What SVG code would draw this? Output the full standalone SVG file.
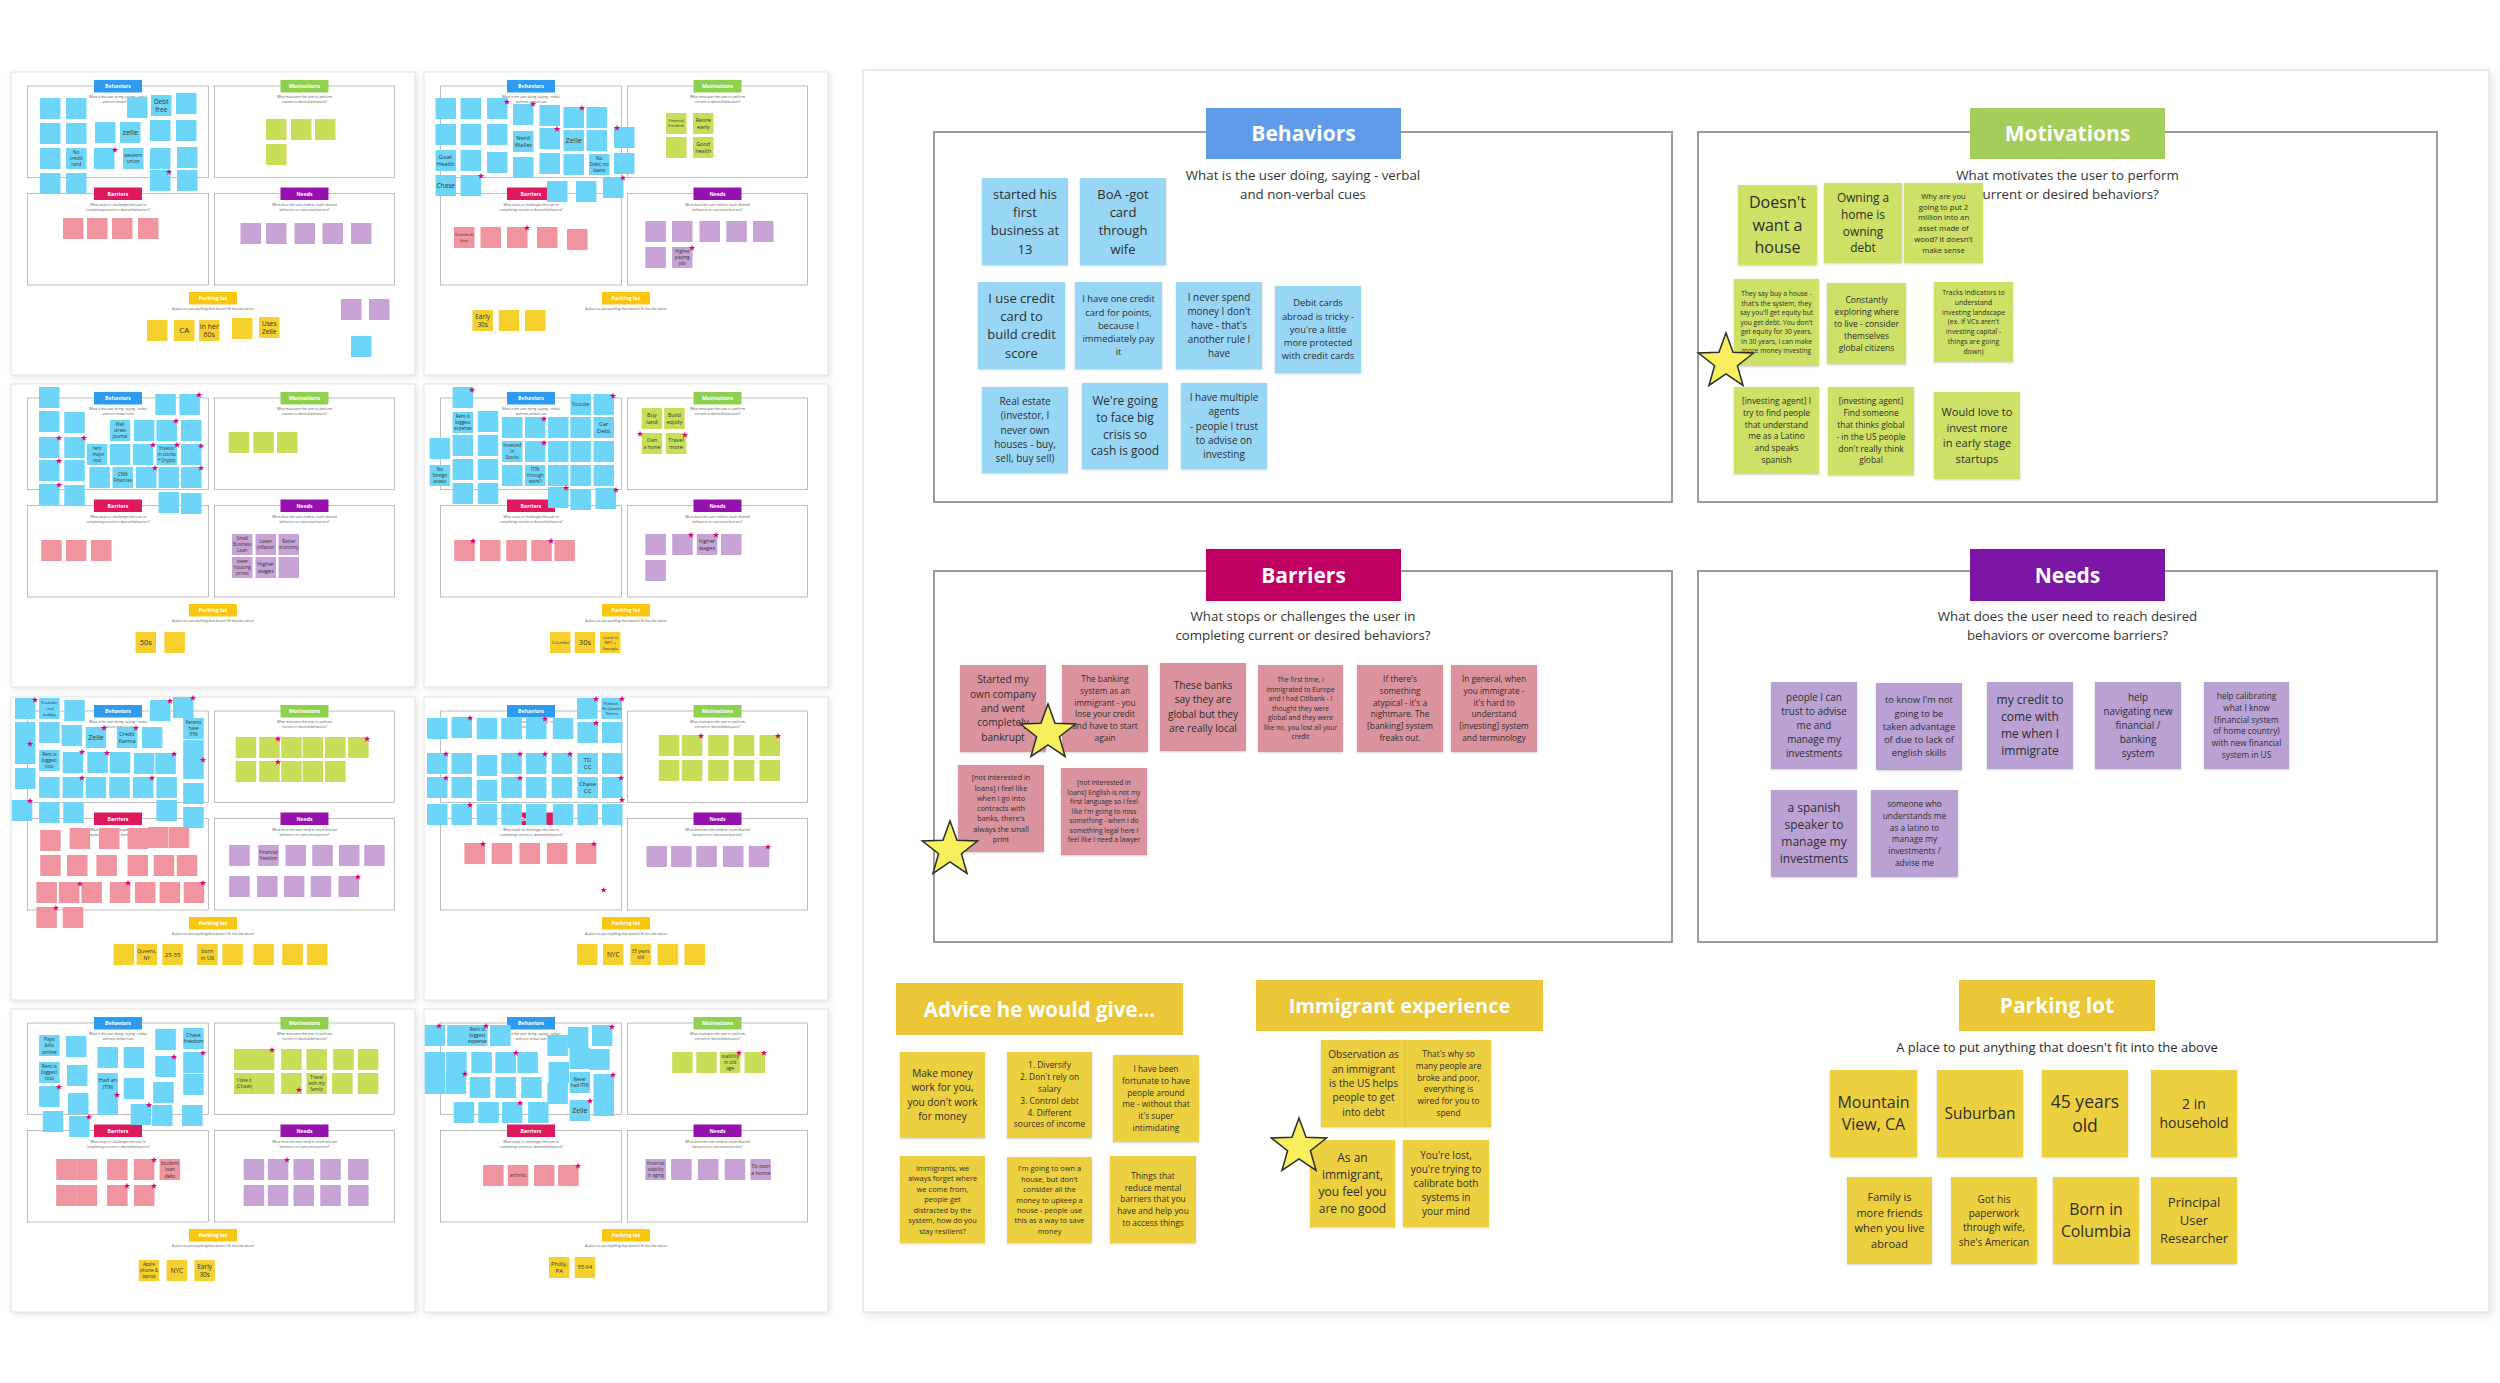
<svg xmlns="http://www.w3.org/2000/svg" xmlns:xlink="http://www.w3.org/1999/xlink" width="2500" height="1383" viewBox="0 0 2500 1383">
<style>
.bgd{fill:#fff}
.mbd{fill:#fff;stroke:#e4e4e4;stroke-width:1.5;filter:drop-shadow(3px 3px 4px rgba(0,0,0,.10))}
.tbd{fill:#fff;stroke:#e4e4e4;stroke-width:1;filter:drop-shadow(2px 2px 3px rgba(0,0,0,.10))}
.sec{fill:none;stroke:#9b9b9b;stroke-width:2}
.tsec{fill:none;stroke:#a3a3a3;stroke-width:.7}
.ht{font-family:'Open Sans','DejaVu Sans',sans-serif;font-weight:700;fill:#fff;text-anchor:middle;font-size:21px}
.sub{font-family:'Open Sans','DejaVu Sans',sans-serif;fill:#333;text-anchor:middle;font-size:13.3px}
.tx{font-family:'Open Sans','DejaVu Sans',sans-serif;fill:#2d2d2d;text-anchor:middle}
.n rect{filter:drop-shadow(0px 1.5px 1px rgba(0,0,0,.18))}
.sb{fill:#98d6f6}.sg{fill:#cfe066}.sr{fill:#da939c}.sp{fill:#b9a1d4}.sy{fill:#edd03f}
.star{fill:#f8ef5e;stroke:#2b2b2b;stroke-width:1.5;stroke-linejoin:miter}
.tb{fill:#6dd5f8}.tg{fill:#c8de58}.tr{fill:#f0959f}.tp{fill:#c6a3d4}.ty{fill:#f6d02c}
.tht{font-family:'Open Sans','DejaVu Sans',sans-serif;font-weight:700;fill:#fff;text-anchor:middle;font-size:5.2px}
.tsu{font-family:'Open Sans','DejaVu Sans',sans-serif;fill:#555;text-anchor:middle;font-size:3.3px}
.tt{font-family:'Open Sans','DejaVu Sans',sans-serif;fill:#333;text-anchor:middle}
.ms{fill:#e3006e}
</style>
<defs>
<polygon id="star" points="0,-29 7.05,-9.71 27.58,-8.96 11.41,3.71 17.05,23.46 0,12 -17.05,23.46 -11.41,3.71 -27.58,-8.96 -7.05,-9.71"/>
<polygon id="mst" points="0,-3.3 0.8,-1.1 3.14,-1.02 1.3,0.42 1.94,2.67 0,1.37 -1.94,2.67 -1.3,0.42 -3.14,-1.02 -0.8,-1.1"/>
<rect id="q" width="20.5" height="21"/>
<g id="tf">
<rect x="0" y="0" width="404" height="303" class="tbd"/>
<rect x="16.5" y="14" width="181" height="91.5" class="tsec"/>
<rect x="203.5" y="14" width="180" height="91.5" class="tsec"/>
<rect x="16.5" y="121.5" width="181" height="91.5" class="tsec"/>
<rect x="203.5" y="121.5" width="180" height="91.5" class="tsec"/>
<rect x="83" y="8" width="48" height="12.5" fill="#2d9bf0"/>
<text x="107" y="16.2" class="tht">Behaviors</text>
<rect x="269.5" y="8" width="48" height="12.5" fill="#8fd14f"/>
<text x="293.5" y="16.2" class="tht">Motivations</text>
<rect x="83" y="115.5" width="48" height="12.5" fill="#e0185e"/>
<text x="107" y="123.7" class="tht">Barriers</text>
<rect x="269.5" y="115.5" width="48" height="12.5" fill="#9510ac"/>
<text x="293.5" y="123.7" class="tht">Needs</text>
<rect x="178" y="220" width="48" height="12.5" fill="#fac710"/>
<text x="202" y="228.2" class="tht">Parking lot</text>
<text class="tsu"><tspan x="107" y="26">What is the user doing, saying - verbal</tspan><tspan x="107" y="30.8">and non-verbal cues</tspan></text>
<text class="tsu"><tspan x="293.5" y="26">What motivates the user to perform</tspan><tspan x="293.5" y="30.8">current or desired behaviors?</tspan></text>
<text class="tsu"><tspan x="107" y="134">What stops or challenges the user in</tspan><tspan x="107" y="138.8">completing current or desired behaviors?</tspan></text>
<text class="tsu"><tspan x="293.5" y="134">What does the user need to reach desired</tspan><tspan x="293.5" y="138.8">behaviors or overcome barriers?</tspan></text>
<text class="tsu" x="202" y="237.8">A place to put anything that doesn't fit into the above</text>
</g>
</defs>
<rect x="0" y="0" width="2500" height="1383" class="bgd"/>

<!-- ===== Thumbnail boards ===== -->
<g id="thumb1">
<use href="#tf" x="11" y="72"/>
<use href="#q" class="tb" x="40" y="98"/><use href="#q" class="tb" x="66" y="98"/><use href="#q" class="tb" x="127" y="97"/><use href="#q" class="tb" x="151" y="95"/><use href="#q" class="tb" x="176" y="93"/>
<use href="#q" class="tb" x="40" y="123"/><use href="#q" class="tb" x="66" y="123"/><use href="#q" class="tb" x="95" y="122"/><use href="#q" class="tb" x="120" y="122"/><use href="#q" class="tb" x="150" y="120"/><use href="#q" class="tb" x="176" y="120"/>
<use href="#q" class="tb" x="40" y="148"/><use href="#q" class="tb" x="66" y="148"/><use href="#q" class="tb" x="94" y="148"/><use href="#q" class="tb" x="123" y="148"/><use href="#q" class="tb" x="150" y="148"/><use href="#q" class="tb" x="177" y="147"/>
<use href="#q" class="tb" x="40" y="173"/><use href="#q" class="tb" x="66" y="173"/><use href="#q" class="tb" x="150" y="170"/><use href="#q" class="tb" x="177" y="170"/><use href="#q" class="tb" x="351" y="336"/>
<use href="#q" class="tg" x="266" y="119"/><use href="#q" class="tg" x="291" y="119"/><use href="#q" class="tg" x="315" y="119"/><use href="#q" class="tg" x="266" y="144"/>
<use href="#q" class="tr" x="63" y="218"/><use href="#q" class="tr" x="87" y="218"/><use href="#q" class="tr" x="112" y="218"/><use href="#q" class="tr" x="138" y="218"/>
<use href="#q" class="tp" x="240.5" y="223"/><use href="#q" class="tp" x="266" y="223"/><use href="#q" class="tp" x="294.5" y="223"/><use href="#q" class="tp" x="322.5" y="223"/><use href="#q" class="tp" x="351" y="223"/><use href="#q" class="tp" x="341" y="299"/><use href="#q" class="tp" x="369" y="299"/>
<use href="#q" class="ty" x="147" y="320"/><use href="#q" class="ty" x="174" y="320"/><use href="#q" class="ty" x="199" y="320"/><use href="#q" class="ty" x="232" y="318"/><use href="#q" class="ty" x="259" y="317"/>
<use href="#mst" class="ms" x="115" y="150"/><use href="#mst" class="ms" x="169" y="172"/>
<text class="tt" font-size="6.5"><tspan x="161.25" y="104">Debt</tspan><tspan x="161.25" y="111.5">free</tspan></text>
<text class="tt" font-size="7.5" x="130.25" y="135.1">zelle</text>
<text class="tt" font-size="4.8"><tspan x="76.25" y="154.4">No</tspan><tspan x="76.25" y="160.2">credit</tspan><tspan x="76.25" y="166">card</tspan></text>
<text class="tt" font-size="4.8"><tspan x="133.25" y="157.3">western</tspan><tspan x="133.25" y="163.1">union</tspan></text>
<text class="tt" font-size="8" x="184.25" y="333.3">CA</text>
<text class="tt" font-size="7"><tspan x="209.25" y="329">In her</tspan><tspan x="209.25" y="337">60s</tspan></text>
<text class="tt" font-size="6.5"><tspan x="269.25" y="326">Uses</tspan><tspan x="269.25" y="333.5">Zelle</tspan></text>
</g>

<g id="thumb2">
<use href="#tf" x="424" y="72"/>
<use href="#q" class="tb" x="435.5" y="98"/><use href="#q" class="tb" x="460.6" y="98"/><use href="#q" class="tb" x="487" y="98"/><use href="#q" class="tb" x="513" y="104"/><use href="#q" class="tb" x="539.5" y="105"/><use href="#q" class="tb" x="563.5" y="107"/><use href="#q" class="tb" x="586.5" y="107"/>
<use href="#q" class="tb" x="435.5" y="124"/><use href="#q" class="tb" x="460.6" y="124"/><use href="#q" class="tb" x="487" y="124"/><use href="#q" class="tb" x="513" y="131"/><use href="#q" class="tb" x="539.5" y="128"/><use href="#q" class="tb" x="563.5" y="130"/><use href="#q" class="tb" x="586.5" y="130"/><use href="#q" class="tb" x="614" y="127"/>
<use href="#q" class="tb" x="435.5" y="150"/><use href="#q" class="tb" x="460.6" y="150"/><use href="#q" class="tb" x="487" y="152"/><use href="#q" class="tb" x="513" y="157"/><use href="#q" class="tb" x="539.5" y="153"/><use href="#q" class="tb" x="563.5" y="154"/><use href="#q" class="tb" x="589" y="154"/><use href="#q" class="tb" x="614" y="153"/>
<use href="#q" class="tb" x="435.5" y="175"/><use href="#q" class="tb" x="460.6" y="175"/><use href="#q" class="tb" x="547" y="181"/><use href="#q" class="tb" x="576" y="181"/><use href="#q" class="tb" x="603" y="177"/>
<use href="#q" class="tg" x="666" y="113"/><use href="#q" class="tg" x="693" y="113"/><use href="#q" class="tg" x="666" y="137"/><use href="#q" class="tg" x="693" y="137"/>
<use href="#q" class="tr" x="454" y="227"/><use href="#q" class="tr" x="480.5" y="227"/><use href="#q" class="tr" x="507" y="227"/><use href="#q" class="tr" x="537" y="227"/><use href="#q" class="tr" x="567" y="229"/>
<use href="#q" class="tp" x="645.4" y="221"/><use href="#q" class="tp" x="672" y="221"/><use href="#q" class="tp" x="699.5" y="221"/><use href="#q" class="tp" x="726.3" y="221"/><use href="#q" class="tp" x="753" y="221"/><use href="#q" class="tp" x="645.4" y="247"/><use href="#q" class="tp" x="672" y="247"/>
<use href="#q" class="ty" x="472.4" y="310"/><use href="#q" class="ty" x="498.7" y="310"/><use href="#q" class="ty" x="525" y="310"/>
<use href="#mst" class="ms" x="507" y="102"/><use href="#mst" class="ms" x="533" y="104"/><use href="#mst" class="ms" x="582" y="108"/><use href="#mst" class="ms" x="557" y="129"/><use href="#mst" class="ms" x="617" y="128"/><use href="#mst" class="ms" x="481" y="176"/><use href="#mst" class="ms" x="623" y="178"/><use href="#mst" class="ms" x="527" y="228"/><use href="#mst" class="ms" x="692" y="248"/>
<text class="tt" font-size="6"><tspan x="523.25" y="140.1">Nerd</tspan><tspan x="523.25" y="147.1">Wallet</tspan></text>
<text class="tt" font-size="7.5" x="573.75" y="143.1">Zelle</text>
<text class="tt" font-size="6"><tspan x="445.75" y="159.1">Goal:</tspan><tspan x="445.75" y="166.1">Health</tspan></text>
<text class="tt" font-size="6.5" x="445.75" y="187.8">Chase</text>
<text class="tt" font-size="4.8"><tspan x="599.25" y="160.2">No</tspan><tspan x="599.25" y="166.2">Debt; no</tspan><tspan x="599.25" y="172.2">loans</tspan></text>
<text class="tt" font-size="3.8"><tspan x="676.25" y="122.3">Financial</tspan><tspan x="676.25" y="127.3">Freedom</tspan></text>
<text class="tt" font-size="5.5"><tspan x="703.25" y="122.2">Retire</tspan><tspan x="703.25" y="128.7">early</tspan></text>
<text class="tt" font-size="5.5"><tspan x="703.25" y="146.2">Good</tspan><tspan x="703.25" y="152.7">health</tspan></text>
<text class="tt" font-size="4.2"><tspan x="464.25" y="236.3">Overdraft</tspan><tspan x="464.25" y="241.8">fees</tspan></text>
<text class="tt" font-size="4.8"><tspan x="682.25" y="253.2">Higher</tspan><tspan x="682.25" y="259.2">paying</tspan><tspan x="682.25" y="265.2">job</tspan></text>
<text class="tt" font-size="6.5"><tspan x="482.65" y="319.1">Early</tspan><tspan x="482.65" y="326.6">30s</tspan></text>
</g>

<g id="thumb3">
<use href="#tf" x="11" y="384"/>
<use href="#q" class="tb" x="39" y="387"/><use href="#q" class="tb" x="39" y="411"/><use href="#q" class="tb" x="64.3" y="412"/><use href="#q" class="tb" x="155.3" y="394"/><use href="#q" class="tb" x="179.4" y="394"/>
<use href="#q" class="tb" x="109.8" y="420"/><use href="#q" class="tb" x="133.9" y="420"/><use href="#q" class="tb" x="156.4" y="420"/><use href="#q" class="tb" x="181" y="420"/>
<use href="#q" class="tb" x="39" y="437"/><use href="#q" class="tb" x="64.3" y="437"/><use href="#q" class="tb" x="86.8" y="444"/><use href="#q" class="tb" x="109.8" y="444"/><use href="#q" class="tb" x="132.8" y="444"/><use href="#q" class="tb" x="156.4" y="444"/><use href="#q" class="tb" x="181" y="444"/>
<use href="#q" class="tb" x="39" y="460"/><use href="#q" class="tb" x="64.3" y="460"/><use href="#q" class="tb" x="89.4" y="467"/><use href="#q" class="tb" x="112.5" y="467"/><use href="#q" class="tb" x="136" y="467"/><use href="#q" class="tb" x="158.5" y="467"/><use href="#q" class="tb" x="181" y="467"/>
<use href="#q" class="tb" x="39" y="484"/><use href="#q" class="tb" x="64.3" y="485"/><use href="#q" class="tb" x="158.5" y="492"/><use href="#q" class="tb" x="181" y="493"/>
<use href="#q" class="tg" x="228.7" y="432"/><use href="#q" class="tg" x="253.3" y="432"/><use href="#q" class="tg" x="277" y="432"/>
<use href="#q" class="tr" x="41.2" y="540"/><use href="#q" class="tr" x="66" y="540"/><use href="#q" class="tr" x="91" y="540"/>
<use href="#q" class="tp" x="232" y="534"/><use href="#q" class="tp" x="255.5" y="534"/><use href="#q" class="tp" x="278.5" y="534"/><use href="#q" class="tp" x="232" y="557"/><use href="#q" class="tp" x="255.5" y="557"/><use href="#q" class="tp" x="278.5" y="557"/>
<use href="#q" class="ty" x="135.5" y="632"/><use href="#q" class="ty" x="164.4" y="632"/>
<use href="#mst" class="ms" x="199" y="395"/><use href="#mst" class="ms" x="176" y="421"/><use href="#mst" class="ms" x="153" y="445"/><use href="#mst" class="ms" x="177" y="445"/><use href="#mst" class="ms" x="201" y="446"/><use href="#mst" class="ms" x="59" y="438"/><use href="#mst" class="ms" x="84" y="438"/><use href="#mst" class="ms" x="59" y="461"/><use href="#mst" class="ms" x="155" y="468"/><use href="#mst" class="ms" x="201" y="468"/><use href="#mst" class="ms" x="59" y="485"/>
<text class="tt" font-size="4.5"><tspan x="120" y="426.1">Wall</tspan><tspan x="120" y="432.1">street</tspan><tspan x="120" y="438.1">journal</tspan></text>
<text class="tt" font-size="4.5"><tspan x="97" y="450.1">rent</tspan><tspan x="97" y="456.1">- major</tspan><tspan x="97" y="462.1">cost</tspan></text>
<text class="tt" font-size="4.5"><tspan x="166.6" y="450.1">Invests</tspan><tspan x="166.6" y="456.1">in stocks</tspan><tspan x="166.6" y="462.1">+ Crypto</tspan></text>
<text class="tt" font-size="4.5"><tspan x="122.75" y="476.1">CNN</tspan><tspan x="122.75" y="482.1">Finances</tspan></text>
<text class="tt" font-size="4.5"><tspan x="242.25" y="540.1">Small</tspan><tspan x="242.25" y="546.1">Business</tspan><tspan x="242.25" y="552.1">Loan</tspan></text>
<text class="tt" font-size="4.5"><tspan x="265.75" y="543.1">Lower</tspan><tspan x="265.75" y="549.1">inflation</tspan></text>
<text class="tt" font-size="4.5"><tspan x="288.75" y="543.1">Better</tspan><tspan x="288.75" y="549.1">economy</tspan></text>
<text class="tt" font-size="4.5"><tspan x="242.25" y="563.1">lower</tspan><tspan x="242.25" y="569.1">housing</tspan><tspan x="242.25" y="575.1">prices</tspan></text>
<text class="tt" font-size="5.5"><tspan x="265.75" y="565.9">Higher</tspan><tspan x="265.75" y="572.9">wages</tspan></text>
<text class="tt" font-size="7.5" x="145.75" y="645.1">50s</text>
</g>

<g id="thumb4">
<use href="#tf" x="424" y="384"/>
<use href="#q" class="tb" x="452.6" y="387"/><use href="#q" class="tb" x="452.6" y="412"/><use href="#q" class="tb" x="477.8" y="411"/><use href="#q" class="tb" x="502" y="417"/><use href="#q" class="tb" x="525" y="417"/><use href="#q" class="tb" x="548" y="417"/><use href="#q" class="tb" x="570.4" y="394"/><use href="#q" class="tb" x="593.5" y="394"/><use href="#q" class="tb" x="570.4" y="417"/><use href="#q" class="tb" x="593.5" y="417"/>
<use href="#q" class="tb" x="429.6" y="438"/><use href="#q" class="tb" x="452.6" y="435"/><use href="#q" class="tb" x="477.8" y="435"/><use href="#q" class="tb" x="502" y="441"/><use href="#q" class="tb" x="525" y="441"/><use href="#q" class="tb" x="548" y="441"/><use href="#q" class="tb" x="570.4" y="441"/><use href="#q" class="tb" x="593.5" y="441"/>
<use href="#q" class="tb" x="429.6" y="465"/><use href="#q" class="tb" x="452.6" y="459"/><use href="#q" class="tb" x="477.8" y="459"/><use href="#q" class="tb" x="502" y="465"/><use href="#q" class="tb" x="525" y="465"/><use href="#q" class="tb" x="548" y="465"/><use href="#q" class="tb" x="570.4" y="465"/><use href="#q" class="tb" x="593.5" y="465"/>
<use href="#q" class="tb" x="452.6" y="483"/><use href="#q" class="tb" x="477.8" y="483"/><use href="#q" class="tb" x="548" y="487"/><use href="#q" class="tb" x="570.4" y="489"/><use href="#q" class="tb" x="595.5" y="488"/>
<use href="#q" class="tg" x="641.7" y="408"/><use href="#q" class="tg" x="664.2" y="408"/><use href="#q" class="tg" x="641.7" y="433"/><use href="#q" class="tg" x="665.8" y="433"/>
<use href="#q" class="tr" x="454.2" y="540"/><use href="#q" class="tr" x="480" y="540"/><use href="#q" class="tr" x="506.2" y="540"/><use href="#q" class="tr" x="531.3" y="540"/><use href="#q" class="tr" x="554.4" y="540"/>
<use href="#q" class="tp" x="645.4" y="534"/><use href="#q" class="tp" x="672.2" y="534"/><use href="#q" class="tp" x="696.8" y="534"/><use href="#q" class="tp" x="721" y="534"/><use href="#q" class="tp" x="645.4" y="560"/>
<use href="#q" class="ty" x="550" y="632"/><use href="#q" class="ty" x="574.7" y="632"/><use href="#q" class="ty" x="600" y="632"/>
<use href="#mst" class="ms" x="472" y="390"/><use href="#mst" class="ms" x="613" y="396"/><use href="#mst" class="ms" x="544" y="419"/><use href="#mst" class="ms" x="544" y="443"/><use href="#mst" class="ms" x="473" y="541"/><use href="#mst" class="ms" x="551" y="541"/><use href="#mst" class="ms" x="691" y="535"/><use href="#mst" class="ms" x="716" y="535"/><use href="#mst" class="ms" x="640" y="434"/><use href="#mst" class="ms" x="685" y="435"/><use href="#mst" class="ms" x="566" y="488"/><use href="#mst" class="ms" x="616" y="490"/>
<text class="tt" font-size="4.5" x="580.65" y="406.1">Youtube</text>
<text class="tt" font-size="6"><tspan x="603.75" y="426.1">Car</tspan><tspan x="603.75" y="433.1">Debt</tspan></text>
<text class="tt" font-size="4.5"><tspan x="462.85" y="418.1">Rent is</tspan><tspan x="462.85" y="424.1">biggest</tspan><tspan x="462.85" y="430.1">expense</tspan></text>
<text class="tt" font-size="4.5"><tspan x="512.25" y="447.1">Invested</tspan><tspan x="512.25" y="453.1">in</tspan><tspan x="512.25" y="459.1">Stocks</tspan></text>
<text class="tt" font-size="4.5"><tspan x="535.25" y="471.1">ITIN</tspan><tspan x="535.25" y="477.1">through</tspan><tspan x="535.25" y="483.1">work?</tspan></text>
<text class="tt" font-size="4.5"><tspan x="439.85" y="471.1">No</tspan><tspan x="439.85" y="477.1">foreign</tspan><tspan x="439.85" y="483.1">assets</tspan></text>
<text class="tt" font-size="5.5"><tspan x="651.95" y="416.9">Buy</tspan><tspan x="651.95" y="423.9">land</tspan></text>
<text class="tt" font-size="5.5"><tspan x="674.45" y="416.9">Build</tspan><tspan x="674.45" y="423.9">equity</tspan></text>
<text class="tt" font-size="4.8"><tspan x="651.95" y="441.7">Own</tspan><tspan x="651.95" y="448.7">a home</tspan></text>
<text class="tt" font-size="5.5"><tspan x="676.05" y="441.9">Travel</tspan><tspan x="676.05" y="448.9">more</tspan></text>
<text class="tt" font-size="5.5"><tspan x="707.05" y="542.9">higher</tspan><tspan x="707.05" y="549.9">wages</tspan></text>
<text class="tt" font-size="4" x="560.25" y="643.9">Colombia</text>
<text class="tt" font-size="7.5" x="584.95" y="645.1">30s</text>
<text class="tt" font-size="4.2"><tspan x="610.25" y="638.5">Lived in</tspan><tspan x="610.25" y="644">NYC +</tspan><tspan x="610.25" y="649.5">Georgia</tspan></text>
</g>

<g id="thumb5">
<use href="#tf" x="11" y="697"/>
<use href="#q" class="tb" x="15" y="698"/><use href="#q" class="tb" x="39.1" y="698"/><use href="#q" class="tb" x="64.3" y="700"/><use href="#q" class="tb" x="150" y="700"/><use href="#q" class="tb" x="173" y="697"/>
<use href="#q" class="tb" x="15" y="722"/><use href="#q" class="tb" x="39.1" y="722"/><use href="#q" class="tb" x="61.6" y="725"/><use href="#q" class="tb" x="85.7" y="727"/><use href="#q" class="tb" x="116.8" y="727"/><use href="#q" class="tb" x="141.9" y="727"/><use href="#q" class="tb" x="183.2" y="718"/>
<use href="#q" class="tb" x="15" y="743"/><use href="#q" class="tb" x="39.1" y="750"/><use href="#q" class="tb" x="62.7" y="752"/><use href="#q" class="tb" x="87.3" y="752"/><use href="#q" class="tb" x="109.8" y="752"/><use href="#q" class="tb" x="133.9" y="753"/><use href="#q" class="tb" x="155.3" y="753"/><use href="#q" class="tb" x="183.2" y="740"/>
<use href="#q" class="tb" x="15" y="768"/><use href="#q" class="tb" x="39.1" y="777"/><use href="#q" class="tb" x="62.7" y="777"/><use href="#q" class="tb" x="85.7" y="777"/><use href="#q" class="tb" x="109.3" y="777"/><use href="#q" class="tb" x="132.8" y="777"/><use href="#q" class="tb" x="156.4" y="777"/><use href="#q" class="tb" x="183.2" y="758"/>
<use href="#q" class="tb" x="11.8" y="800"/><use href="#q" class="tb" x="39.1" y="802"/><use href="#q" class="tb" x="63.2" y="802"/><use href="#q" class="tb" x="156.4" y="800"/><use href="#q" class="tb" x="183.2" y="783"/><use href="#q" class="tb" x="183.2" y="807"/>
<use href="#q" class="tg" x="235.7" y="737"/><use href="#q" class="tg" x="259.2" y="737"/><use href="#q" class="tg" x="281.2" y="737"/><use href="#q" class="tg" x="302.6" y="737"/><use href="#q" class="tg" x="325.1" y="737"/><use href="#q" class="tg" x="348.1" y="737"/>
<use href="#q" class="tg" x="235.7" y="761"/><use href="#q" class="tg" x="259.2" y="761"/><use href="#q" class="tg" x="281.2" y="761"/><use href="#q" class="tg" x="302.6" y="761"/><use href="#q" class="tg" x="325.1" y="761"/>
<use href="#q" class="tr" x="40.2" y="830"/><use href="#q" class="tr" x="69.6" y="828"/><use href="#q" class="tr" x="99" y="828"/><use href="#q" class="tr" x="127.5" y="828"/><use href="#q" class="tr" x="147.8" y="827"/><use href="#q" class="tr" x="168.7" y="827"/>
<use href="#q" class="tr" x="40.2" y="855"/><use href="#q" class="tr" x="67" y="855"/><use href="#q" class="tr" x="96.4" y="855"/><use href="#q" class="tr" x="127.5" y="855"/><use href="#q" class="tr" x="153.7" y="855"/><use href="#q" class="tr" x="176.8" y="855"/>
<use href="#q" class="tr" x="36.4" y="882"/><use href="#q" class="tr" x="58.9" y="882"/><use href="#q" class="tr" x="81.4" y="882"/><use href="#q" class="tr" x="109.8" y="882"/><use href="#q" class="tr" x="135" y="882"/><use href="#q" class="tr" x="159.6" y="882"/><use href="#q" class="tr" x="183.7" y="882"/>
<use href="#q" class="tr" x="36.4" y="907"/><use href="#q" class="tr" x="62.7" y="907"/>
<use href="#q" class="tp" x="229.2" y="845"/><use href="#q" class="tp" x="258.2" y="845"/><use href="#q" class="tp" x="285.5" y="845"/><use href="#q" class="tp" x="312.3" y="845"/><use href="#q" class="tp" x="339" y="845"/><use href="#q" class="tp" x="364.2" y="845"/>
<use href="#q" class="tp" x="229.2" y="876"/><use href="#q" class="tp" x="257.1" y="876"/><use href="#q" class="tp" x="283.9" y="876"/><use href="#q" class="tp" x="310.7" y="876"/><use href="#q" class="tp" x="338.5" y="876"/>
<use href="#q" class="ty" x="113.6" y="944"/><use href="#q" class="ty" x="136.6" y="944"/><use href="#q" class="ty" x="162.3" y="944"/><use href="#q" class="ty" x="197.1" y="944"/><use href="#q" class="ty" x="222.3" y="944"/><use href="#q" class="ty" x="253.3" y="944"/><use href="#q" class="ty" x="282.3" y="944"/><use href="#q" class="ty" x="306.9" y="944"/>
<use href="#mst" class="ms" x="35" y="700"/><use href="#mst" class="ms" x="170" y="701"/><use href="#mst" class="ms" x="193" y="698"/><use href="#mst" class="ms" x="104" y="728"/><use href="#mst" class="ms" x="136" y="728"/><use href="#mst" class="ms" x="30" y="744"/><use href="#mst" class="ms" x="82" y="752"/><use href="#mst" class="ms" x="107" y="753"/><use href="#mst" class="ms" x="174" y="754"/><use href="#mst" class="ms" x="82" y="778"/><use href="#mst" class="ms" x="152" y="778"/><use href="#mst" class="ms" x="203" y="760"/><use href="#mst" class="ms" x="30" y="801"/><use href="#mst" class="ms" x="80" y="884"/><use href="#mst" class="ms" x="128" y="883"/><use href="#mst" class="ms" x="203" y="883"/><use href="#mst" class="ms" x="56" y="908"/><use href="#mst" class="ms" x="278" y="739"/><use href="#mst" class="ms" x="367" y="739"/><use href="#mst" class="ms" x="278" y="762"/><use href="#mst" class="ms" x="358" y="877"/>
<text class="tt" font-size="4.3"><tspan x="49.35" y="704">Youtube</tspan><tspan x="49.35" y="710">- ask</tspan><tspan x="49.35" y="716">bobby</tspan></text>
<text class="tt" font-size="7" x="95.95" y="740">Zelle</text>
<text class="tt" font-size="5.5"><tspan x="127.05" y="735.9">Credit</tspan><tspan x="127.05" y="742.9">Karma</tspan></text>
<text class="tt" font-size="4.5"><tspan x="193.45" y="724.1">Parents</tspan><tspan x="193.45" y="730.1">have</tspan><tspan x="193.45" y="736.1">ITIN</tspan></text>
<text class="tt" font-size="4.5"><tspan x="49.35" y="756.1">Rent is</tspan><tspan x="49.35" y="762.1">biggest</tspan><tspan x="49.35" y="768.1">cost</tspan></text>
<text class="tt" font-size="4.5"><tspan x="268.45" y="854.1">Financial</tspan><tspan x="268.45" y="860.1">freedom</tspan></text>
<text class="tt" font-size="5"><tspan x="146.85" y="953">Queens,</tspan><tspan x="146.85" y="959.5">NY</tspan></text>
<text class="tt" font-size="6" x="172.55" y="956.6">25-35</text>
<text class="tt" font-size="5.5"><tspan x="207.35" y="952.9">born</tspan><tspan x="207.35" y="959.9">in US</tspan></text>
</g>

<g id="thumb6">
<use href="#tf" x="424" y="697"/>
<use href="#q" class="tb" x="577" y="698"/><use href="#q" class="tb" x="601.5" y="698"/>
<use href="#q" class="tb" x="427" y="718"/><use href="#q" class="tb" x="451.5" y="717"/><use href="#q" class="tb" x="476.7" y="718"/><use href="#q" class="tb" x="501.3" y="718"/><use href="#q" class="tb" x="526" y="718"/><use href="#q" class="tb" x="552.8" y="718"/><use href="#q" class="tb" x="577.4" y="722"/><use href="#q" class="tb" x="602" y="722"/>
<use href="#q" class="tb" x="427" y="753"/><use href="#q" class="tb" x="451.5" y="753"/><use href="#q" class="tb" x="476.7" y="755"/><use href="#q" class="tb" x="501.3" y="753"/><use href="#q" class="tb" x="526" y="753"/><use href="#q" class="tb" x="551.7" y="753"/><use href="#q" class="tb" x="577.4" y="753"/><use href="#q" class="tb" x="602" y="753"/>
<use href="#q" class="tb" x="427" y="777"/><use href="#q" class="tb" x="451.5" y="777"/><use href="#q" class="tb" x="476.7" y="780"/><use href="#q" class="tb" x="501.3" y="777"/><use href="#q" class="tb" x="526" y="777"/><use href="#q" class="tb" x="551.7" y="777"/><use href="#q" class="tb" x="577.4" y="777"/><use href="#q" class="tb" x="602" y="777"/>
<use href="#q" class="tb" x="427" y="804"/><use href="#q" class="tb" x="451.5" y="804"/><use href="#q" class="tb" x="476.7" y="804"/><use href="#q" class="tb" x="501.3" y="804"/><use href="#q" class="tb" x="526" y="804"/><use href="#q" class="tb" x="552.8" y="804"/><use href="#q" class="tb" x="577.4" y="804"/><use href="#q" class="tb" x="602" y="804"/>
<use href="#q" class="tg" x="658.8" y="735"/><use href="#q" class="tg" x="681.8" y="735"/><use href="#q" class="tg" x="708.1" y="735"/><use href="#q" class="tg" x="733.8" y="735"/><use href="#q" class="tg" x="759.5" y="735"/>
<use href="#q" class="tg" x="658.8" y="760"/><use href="#q" class="tg" x="681.8" y="760"/><use href="#q" class="tg" x="708.1" y="760"/><use href="#q" class="tg" x="733.8" y="760"/><use href="#q" class="tg" x="759.5" y="760"/>
<use href="#q" class="tr" x="464.4" y="843"/><use href="#q" class="tr" x="491.7" y="843"/><use href="#q" class="tr" x="519.5" y="843"/><use href="#q" class="tr" x="546.9" y="843"/><use href="#q" class="tr" x="575.8" y="843"/>
<use href="#q" class="tp" x="646.5" y="846"/><use href="#q" class="tp" x="671.1" y="846"/><use href="#q" class="tp" x="696.3" y="846"/><use href="#q" class="tp" x="723" y="846"/><use href="#q" class="tp" x="748.8" y="846"/>
<use href="#q" class="ty" x="577" y="944"/><use href="#q" class="ty" x="603" y="944"/><use href="#q" class="ty" x="630.4" y="944"/><use href="#q" class="ty" x="657.7" y="944"/><use href="#q" class="ty" x="684.5" y="944"/>
<use href="#mst" class="ms" x="596" y="699"/><use href="#mst" class="ms" x="622" y="699"/><use href="#mst" class="ms" x="470" y="718"/><use href="#mst" class="ms" x="545" y="719"/><use href="#mst" class="ms" x="596" y="723"/><use href="#mst" class="ms" x="446" y="754"/><use href="#mst" class="ms" x="520" y="754"/><use href="#mst" class="ms" x="545" y="754"/><use href="#mst" class="ms" x="570" y="754"/><use href="#mst" class="ms" x="446" y="778"/><use href="#mst" class="ms" x="520" y="778"/><use href="#mst" class="ms" x="621" y="778"/><use href="#mst" class="ms" x="470" y="805"/><use href="#mst" class="ms" x="622" y="800"/><use href="#mst" class="ms" x="483" y="844"/><use href="#mst" class="ms" x="594" y="844"/><use href="#mst" class="ms" x="701" y="736"/><use href="#mst" class="ms" x="778" y="736"/><use href="#mst" class="ms" x="768" y="847"/><use href="#mst" class="ms" x="603.6" y="890"/>
<text class="tt" font-size="3.8"><tspan x="611.75" y="704.8">Podcast -</tspan><tspan x="611.75" y="709.8">His Queens</tspan><tspan x="611.75" y="714.8">Dinero</tspan></text>
<text class="tt" font-size="6"><tspan x="587.65" y="762.1">TD</tspan><tspan x="587.65" y="769.1">CC</tspan></text>
<text class="tt" font-size="6"><tspan x="587.65" y="786.1">Chase</tspan><tspan x="587.65" y="793.1">CC</tspan></text>
<text class="tt" font-size="6.5" x="613.25" y="956.8">NYC</text>
<text class="tt" font-size="4.5"><tspan x="640.65" y="953.1">35 years</tspan><tspan x="640.65" y="959.1">old</tspan></text>
</g>

<g id="thumb7">
<use href="#tf" x="11" y="1009"/>
<use href="#q" class="tb" x="39.1" y="1035"/><use href="#q" class="tb" x="65.9" y="1036"/><use href="#q" class="tb" x="155.3" y="1029"/><use href="#q" class="tb" x="183.2" y="1028"/><use href="#q" class="tb" x="97.5" y="1047"/><use href="#q" class="tb" x="123.7" y="1047"/>
<use href="#q" class="tb" x="39.1" y="1062"/><use href="#q" class="tb" x="67" y="1065"/><use href="#q" class="tb" x="155.3" y="1056"/><use href="#q" class="tb" x="183.2" y="1052"/><use href="#q" class="tb" x="183.2" y="1074"/><use href="#q" class="tb" x="97.5" y="1073"/><use href="#q" class="tb" x="97.5" y="1094"/><use href="#q" class="tb" x="123.7" y="1078"/><use href="#q" class="tb" x="153.2" y="1082"/>
<use href="#q" class="tb" x="39.1" y="1086"/><use href="#q" class="tb" x="68" y="1093"/><use href="#q" class="tb" x="130.7" y="1104"/><use href="#q" class="tb" x="152.1" y="1105"/><use href="#q" class="tb" x="182.1" y="1105"/><use href="#q" class="tb" x="42.8" y="1111"/><use href="#q" class="tb" x="69.1" y="1116"/>
<use href="#q" class="tg" x="234" y="1049"/><use href="#q" class="tg" x="253.9" y="1049"/><use href="#q" class="tg" x="281.2" y="1049"/><use href="#q" class="tg" x="306.4" y="1049"/><use href="#q" class="tg" x="333.2" y="1049"/><use href="#q" class="tg" x="357.8" y="1049"/>
<use href="#q" class="tg" x="234" y="1073"/><use href="#q" class="tg" x="253.9" y="1073"/><use href="#q" class="tg" x="281.2" y="1073"/><use href="#q" class="tg" x="306.4" y="1073"/><use href="#q" class="tg" x="332.1" y="1073"/><use href="#q" class="tg" x="357.8" y="1073"/>
<use href="#q" class="tr" x="56.2" y="1159"/><use href="#q" class="tr" x="76.6" y="1159"/><use href="#q" class="tr" x="107.1" y="1159"/><use href="#q" class="tr" x="133.9" y="1159"/><use href="#q" class="tr" x="159.6" y="1159"/>
<use href="#q" class="tr" x="56.2" y="1185"/><use href="#q" class="tr" x="76.6" y="1185"/><use href="#q" class="tr" x="107.1" y="1185"/><use href="#q" class="tr" x="133.9" y="1185"/>
<use href="#q" class="tp" x="243.7" y="1159"/><use href="#q" class="tp" x="267.8" y="1159"/><use href="#q" class="tp" x="293.5" y="1159"/><use href="#q" class="tp" x="320.3" y="1159"/><use href="#q" class="tp" x="348.1" y="1159"/>
<use href="#q" class="tp" x="243.7" y="1185"/><use href="#q" class="tp" x="267.8" y="1185"/><use href="#q" class="tp" x="293.5" y="1185"/><use href="#q" class="tp" x="320.3" y="1185"/><use href="#q" class="tp" x="348.1" y="1185"/>
<use href="#q" class="ty" x="138.7" y="1260"/><use href="#q" class="ty" x="166.6" y="1260"/><use href="#q" class="ty" x="194.4" y="1260"/>
<use href="#mst" class="ms" x="174" y="1057"/><use href="#mst" class="ms" x="203" y="1053"/><use href="#mst" class="ms" x="117" y="1095"/><use href="#mst" class="ms" x="59" y="1087"/><use href="#mst" class="ms" x="149" y="1105"/><use href="#mst" class="ms" x="89" y="1117"/><use href="#mst" class="ms" x="272" y="1050"/><use href="#mst" class="ms" x="299" y="1090"/><use href="#mst" class="ms" x="154" y="1160"/><use href="#mst" class="ms" x="127" y="1186"/><use href="#mst" class="ms" x="154" y="1186"/><use href="#mst" class="ms" x="287" y="1160"/>
<text class="tt" font-size="5"><tspan x="49.35" y="1041">Pays</tspan><tspan x="49.35" y="1047.3">bills</tspan><tspan x="49.35" y="1053.6">online</tspan></text>
<text class="tt" font-size="5"><tspan x="193.45" y="1037.1">Chase</tspan><tspan x="193.45" y="1043.4">freedom</tspan></text>
<text class="tt" font-size="4.8"><tspan x="49.35" y="1068.2">Rent is</tspan><tspan x="49.35" y="1074.2">biggest</tspan><tspan x="49.35" y="1080.2">cost</tspan></text>
<text class="tt" font-size="5.5"><tspan x="107.75" y="1081.9">Had an</tspan><tspan x="107.75" y="1088.9">ITIN</tspan></text>
<text class="tt" font-size="4.5"><tspan x="244.25" y="1082.1">I love it</tspan><tspan x="244.25" y="1088.1">(Chase)</tspan></text>
<text class="tt" font-size="4.5"><tspan x="316.65" y="1079.1">Travel</tspan><tspan x="316.65" y="1085.1">with my</tspan><tspan x="316.65" y="1091.1">family</tspan></text>
<text class="tt" font-size="5"><tspan x="169.85" y="1165">Student</tspan><tspan x="169.85" y="1171.3">loan</tspan><tspan x="169.85" y="1177.6">debt</tspan></text>
<text class="tt" font-size="4.5"><tspan x="148.95" y="1266.1">Apple</tspan><tspan x="148.95" y="1272.1">phone &amp;</tspan><tspan x="148.95" y="1278.1">laptop</tspan></text>
<text class="tt" font-size="6.5" x="176.85" y="1272.8">NYC</text>
<text class="tt" font-size="6.5"><tspan x="204.65" y="1269">Early</tspan><tspan x="204.65" y="1276.5">30s</tspan></text>
</g>

<g id="thumb8">
<use href="#tf" x="424" y="1009"/>
<use href="#q" class="tb" x="424.7" y="1025"/><use href="#q" class="tb" x="447.2" y="1025"/><use href="#q" class="tb" x="467.1" y="1025"/><use href="#q" class="tb" x="490.1" y="1025"/><use href="#q" class="tb" x="567.8" y="1027"/><use href="#q" class="tb" x="591.9" y="1025"/>
<use href="#q" class="tb" x="424.7" y="1052"/><use href="#q" class="tb" x="446.2" y="1052"/><use href="#q" class="tb" x="471.3" y="1052"/><use href="#q" class="tb" x="495.4" y="1052"/><use href="#q" class="tb" x="517.4" y="1052"/><use href="#q" class="tb" x="547.4" y="1035"/><use href="#q" class="tb" x="569.6" y="1048"/><use href="#q" class="tb" x="589.2" y="1049"/>
<use href="#q" class="tb" x="424.7" y="1073"/><use href="#q" class="tb" x="445.6" y="1073"/><use href="#q" class="tb" x="469.7" y="1077"/><use href="#q" class="tb" x="495.4" y="1077"/><use href="#q" class="tb" x="521.2" y="1077"/><use href="#q" class="tb" x="548.5" y="1062"/><use href="#q" class="tb" x="569.6" y="1072"/><use href="#q" class="tb" x="593.5" y="1074"/><use href="#q" class="tb" x="593.5" y="1095"/>
<use href="#q" class="tb" x="453.7" y="1102"/><use href="#q" class="tb" x="478.3" y="1102"/><use href="#q" class="tb" x="501.9" y="1102"/><use href="#q" class="tb" x="528.1" y="1102"/><use href="#q" class="tb" x="547.4" y="1083"/><use href="#q" class="tb" x="569.6" y="1100"/>
<use href="#q" class="tg" x="672.2" y="1052"/><use href="#q" class="tg" x="696.3" y="1052"/><use href="#q" class="tg" x="719.9" y="1052"/><use href="#q" class="tg" x="744.5" y="1052"/>
<use href="#q" class="tr" x="483.1" y="1165"/><use href="#q" class="tr" x="507.8" y="1165"/><use href="#q" class="tr" x="534" y="1165"/><use href="#q" class="tr" x="558.1" y="1165"/>
<use href="#q" class="tp" x="645.4" y="1159"/><use href="#q" class="tp" x="671.1" y="1159"/><use href="#q" class="tp" x="697.9" y="1159"/><use href="#q" class="tp" x="724.7" y="1159"/><use href="#q" class="tp" x="750.4" y="1159"/>
<use href="#q" class="ty" x="549" y="1257"/><use href="#q" class="ty" x="574.7" y="1257"/>
<use href="#mst" class="ms" x="439" y="1026"/><use href="#mst" class="ms" x="486" y="1026"/><use href="#mst" class="ms" x="612" y="1027"/><use href="#mst" class="ms" x="516" y="1053"/><use href="#mst" class="ms" x="465" y="1074"/><use href="#mst" class="ms" x="613" y="1075"/><use href="#mst" class="ms" x="520" y="1103"/><use href="#mst" class="ms" x="590" y="1101"/><use href="#mst" class="ms" x="739" y="1053"/><use href="#mst" class="ms" x="764" y="1053"/><use href="#mst" class="ms" x="578" y="1166"/>
<text class="tt" font-size="4.8"><tspan x="477.35" y="1031.2">Rent is</tspan><tspan x="477.35" y="1037.2">biggest</tspan><tspan x="477.35" y="1043.2">expense</tspan></text>
<text class="tt" font-size="4.5"><tspan x="579.85" y="1081.1">Never</tspan><tspan x="579.85" y="1087.1">had ITIN</tspan></text>
<text class="tt" font-size="7" x="579.85" y="1113">Zelle</text>
<text class="tt" font-size="4.8"><tspan x="730.15" y="1058.2">stability</tspan><tspan x="730.15" y="1064.2">in old</tspan><tspan x="730.15" y="1070.2">age</tspan></text>
<text class="tt" font-size="4.5" x="518.05" y="1177.1">arthritis</text>
<text class="tt" font-size="4.5"><tspan x="655.65" y="1165.1">financial</tspan><tspan x="655.65" y="1171.1">stability</tspan><tspan x="655.65" y="1177.1">in aging</tspan></text>
<text class="tt" font-size="5.5"><tspan x="760.65" y="1167.9">To own</tspan><tspan x="760.65" y="1174.9">a home</tspan></text>
<text class="tt" font-size="6"><tspan x="559.25" y="1266.1">Philly,</tspan><tspan x="559.25" y="1273.1">PA</tspan></text>
<text class="tt" font-size="5.5" x="584.95" y="1269.4">55-64</text>
</g>

<!-- ===== Main board ===== -->
<g id="main-board">
<rect x="863" y="70" width="1626" height="1242" class="mbd"/>
<rect x="934" y="132" width="738" height="370" class="sec"/>
<rect x="1698" y="132" width="739" height="370" class="sec"/>
<rect x="934" y="571" width="738" height="371" class="sec"/>
<rect x="1698" y="571" width="739" height="371" class="sec"/>
</g>

<g id="hdr-behaviors"><rect x="1206" y="108" width="195" height="51" fill="#5e9cea"/><text class="ht" x="1303.5" y="141">Behaviors</text>
<text class="sub"><tspan x="1303" y="180">What is the user doing, saying - verbal</tspan><tspan x="1303" y="199">and non-verbal cues</tspan></text></g>
<g id="hdr-motivations"><rect x="1970" y="108" width="195" height="51" fill="#a3ce5a"/><text class="ht" x="2067.5" y="141">Motivations</text>
<text class="sub"><tspan x="2067.5" y="180">What motivates the user to perform</tspan><tspan x="2067.5" y="199">current or desired behaviors?</tspan></text></g>
<g id="hdr-barriers"><rect x="1206" y="549" width="195" height="52" fill="#be0060"/><text class="ht" x="1303.5" y="582.5">Barriers</text>
<text class="sub"><tspan x="1303" y="621">What stops or challenges the user in</tspan><tspan x="1303" y="640">completing current or desired behaviors?</tspan></text></g>
<g id="hdr-needs"><rect x="1970" y="549" width="195" height="52" fill="#7c16a4"/><text class="ht" x="2067.5" y="582.5">Needs</text>
<text class="sub"><tspan x="2067.5" y="621">What does the user need to reach desired</tspan><tspan x="2067.5" y="640">behaviors or overcome barriers?</tspan></text></g>
<g id="hdr-advice"><rect x="896" y="983" width="287" height="52" fill="#ebc637"/><text class="ht" style="font-size:20.5px" x="1039.5" y="1016.5">Advice he would give...</text></g>
<g id="hdr-immigrant"><rect x="1256" y="980" width="287" height="51" fill="#ebc637"/><text class="ht" style="font-size:20px" x="1399.5" y="1013">Immigrant experience</text></g>
<g id="hdr-parking"><rect x="1959" y="980" width="196" height="51" fill="#ebc637"/><text class="ht" x="2057" y="1013">Parking lot</text>
<text class="sub" style="font-size:13px;fill:#2a2a2a" x="2057" y="1052">A place to put anything that doesn't fit into the above</text></g>

<!-- Behaviors -->
<g id="b1" class="n"><rect class="sb" x="982" y="178" width="86" height="87"/><text class="tx" font-size="13"><tspan x="1025" y="198.6">started his</tspan><tspan x="1025" y="216.9">first</tspan><tspan x="1025" y="235.2">business at</tspan><tspan x="1025" y="253.5">13</tspan></text></g>
<g id="b2" class="n"><rect class="sb" x="1080" y="178" width="86" height="87"/><text class="tx" font-size="13"><tspan x="1123" y="198.6">BoA -got</tspan><tspan x="1123" y="216.9">card</tspan><tspan x="1123" y="235.2">through</tspan><tspan x="1123" y="253.5">wife</tspan></text></g>
<g id="b3" class="n"><rect class="sb" x="978" y="282" width="87" height="87"/><text class="tx" font-size="13"><tspan x="1021.5" y="302.6">I use credit</tspan><tspan x="1021.5" y="320.9">card to</tspan><tspan x="1021.5" y="339.2">build credit</tspan><tspan x="1021.5" y="357.5">score</tspan></text></g>
<g id="b4" class="n"><rect class="sb" x="1075" y="282" width="87" height="87"/><text class="tx" font-size="9.4"><tspan x="1118.5" y="302.2">I have one credit</tspan><tspan x="1118.5" y="315.5">card for points,</tspan><tspan x="1118.5" y="328.8">because I</tspan><tspan x="1118.5" y="342.1">immediately pay</tspan><tspan x="1118.5" y="355.4">it</tspan></text></g>
<g id="b5" class="n"><rect class="sb" x="1176" y="282" width="86" height="87"/><text class="tx" font-size="9.9"><tspan x="1219" y="301">I never spend</tspan><tspan x="1219" y="315">money I don't</tspan><tspan x="1219" y="329">have - that's</tspan><tspan x="1219" y="343">another rule I</tspan><tspan x="1219" y="357">have</tspan></text></g>
<g id="b6" class="n"><rect class="sb" x="1275" y="286" width="86" height="87"/><text class="tx" font-size="9.4"><tspan x="1318" y="306.2">Debit cards</tspan><tspan x="1318" y="319.5">abroad is tricky -</tspan><tspan x="1318" y="332.8">you're a little</tspan><tspan x="1318" y="346.1">more protected</tspan><tspan x="1318" y="359.4">with credit cards</tspan></text></g>
<g id="b7" class="n"><rect class="sb" x="982" y="387" width="86" height="86"/><text class="tx" font-size="10"><tspan x="1025" y="405.1">Real estate</tspan><tspan x="1025" y="419.3">(investor, I</tspan><tspan x="1025" y="433.5">never own</tspan><tspan x="1025" y="447.7">houses - buy,</tspan><tspan x="1025" y="461.9">sell, buy sell)</tspan></text></g>
<g id="b8" class="n"><rect class="sb" x="1082" y="383" width="86" height="86"/><text class="tx" font-size="11.9"><tspan x="1125" y="405">We're going</tspan><tspan x="1125" y="421.8">to face big</tspan><tspan x="1125" y="438.6">crisis so</tspan><tspan x="1125" y="455.4">cash is good</tspan></text></g>
<g id="b9" class="n"><rect class="sb" x="1181" y="383" width="86" height="86"/><text class="tx" font-size="10"><tspan x="1224" y="401.1">I have multiple</tspan><tspan x="1224" y="415.3">agents</tspan><tspan x="1224" y="429.5">- people I trust</tspan><tspan x="1224" y="443.7">to advise on</tspan><tspan x="1224" y="457.9">investing</tspan></text></g>

<!-- Motivations -->
<g id="m1" class="n"><rect class="sg" x="1738" y="185" width="79" height="80"/><text class="tx" font-size="16.1"><tspan x="1777.5" y="207.9">Doesn't</tspan><tspan x="1777.5" y="230.6">want a</tspan><tspan x="1777.5" y="253.3">house</tspan></text></g>
<g id="m2" class="n"><rect class="sg" x="1824" y="183" width="78" height="80"/><text class="tx" font-size="11.9"><tspan x="1863" y="202">Owning a</tspan><tspan x="1863" y="218.8">home is</tspan><tspan x="1863" y="235.6">owning</tspan><tspan x="1863" y="252.4">debt</tspan></text></g>
<g id="m3" class="n"><rect class="sg" x="1904" y="183" width="79" height="80"/><text class="tx" font-size="7.7"><tspan x="1943.5" y="198.7">Why are you</tspan><tspan x="1943.5" y="209.5">going to put 2</tspan><tspan x="1943.5" y="220.3">million into an</tspan><tspan x="1943.5" y="231.1">asset made of</tspan><tspan x="1943.5" y="241.9">wood? It doesn't</tspan><tspan x="1943.5" y="252.7">make sense</tspan></text></g>
<g id="m4" class="n"><rect class="sg" x="1734" y="279" width="85" height="87"/><text class="tx" font-size="6.7"><tspan x="1776.5" y="296.3">They say buy a house -</tspan><tspan x="1776.5" y="305.8">that's the system, they</tspan><tspan x="1776.5" y="315.3">say you'll get equity but</tspan><tspan x="1776.5" y="324.8">you get debt. You don't</tspan><tspan x="1776.5" y="334.3">get equity for 30 years.</tspan><tspan x="1776.5" y="343.8">In 30 years, I can make</tspan><tspan x="1776.5" y="353.3">more money investing</tspan></text></g>
<g id="m5" class="n"><rect class="sg" x="1827" y="283" width="79" height="81"/><text class="tx" font-size="8.5"><tspan x="1866.5" y="302.5">Constantly</tspan><tspan x="1866.5" y="314.5">exploring where</tspan><tspan x="1866.5" y="326.5">to live - consider</tspan><tspan x="1866.5" y="338.5">themselves</tspan><tspan x="1866.5" y="350.5">global citizens</tspan></text></g>
<g id="m6" class="n"><rect class="sg" x="1934" y="282" width="79" height="80"/><text class="tx" font-size="6.9"><tspan x="1973.5" y="295.3">Tracks indicators to</tspan><tspan x="1973.5" y="305">understand</tspan><tspan x="1973.5" y="314.7">investing landscape</tspan><tspan x="1973.5" y="324.4">(ex. If VCs aren't</tspan><tspan x="1973.5" y="334.1">investing capital  -</tspan><tspan x="1973.5" y="343.8">things are going</tspan><tspan x="1973.5" y="353.5">down)</tspan></text></g>
<g id="m7" class="n"><rect class="sg" x="1734" y="387" width="85" height="87"/><text class="tx" font-size="8.4"><tspan x="1776.5" y="403.9">[investing agent] I</tspan><tspan x="1776.5" y="415.7">try to find people</tspan><tspan x="1776.5" y="427.5">that understand</tspan><tspan x="1776.5" y="439.3">me as a Latino</tspan><tspan x="1776.5" y="451.1">and speaks</tspan><tspan x="1776.5" y="462.9">spanish</tspan></text></g>
<g id="m8" class="n"><rect class="sg" x="1828" y="387" width="86" height="88"/><text class="tx" font-size="8.4"><tspan x="1871" y="404.4">[investing agent]</tspan><tspan x="1871" y="416.2">Find someone</tspan><tspan x="1871" y="428">that thinks global</tspan><tspan x="1871" y="439.8">- in the US people</tspan><tspan x="1871" y="451.6">don't really think</tspan><tspan x="1871" y="463.4">global</tspan></text></g>
<g id="m9" class="n"><rect class="sg" x="1934" y="392" width="86" height="87"/><text class="tx" font-size="11.1"><tspan x="1977" y="415.9">Would love to</tspan><tspan x="1977" y="431.6">invest more</tspan><tspan x="1977" y="447.3">in early stage</tspan><tspan x="1977" y="463">startups</tspan></text></g>

<!-- Barriers -->
<g id="r1" class="n"><rect class="sr" x="960" y="665" width="86" height="87"/><text class="tx" font-size="10.1"><tspan x="1003" y="683.4">Started my</tspan><tspan x="1003" y="697.7">own company</tspan><tspan x="1003" y="712">and went</tspan><tspan x="1003" y="726.3">completely</tspan><tspan x="1003" y="740.6">bankrupt</tspan></text></g>
<g id="r2" class="n"><rect class="sr" x="1062" y="665" width="86" height="87"/><text class="tx" font-size="8.3"><tspan x="1105" y="682.2">The banking</tspan><tspan x="1105" y="693.9">system as an</tspan><tspan x="1105" y="705.6">immigrant - you</tspan><tspan x="1105" y="717.3">lose your credit</tspan><tspan x="1105" y="729">and have to start</tspan><tspan x="1105" y="740.7">again</tspan></text></g>
<g id="r3" class="n"><rect class="sr" x="1160" y="663" width="86" height="88"/><text class="tx" font-size="10.1"><tspan x="1203" y="689.1">These banks</tspan><tspan x="1203" y="703.4">say they are</tspan><tspan x="1203" y="717.7">global but they</tspan><tspan x="1203" y="732">are really local</tspan></text></g>
<g id="r4" class="n"><rect class="sr" x="1258" y="665" width="85" height="87"/><text class="tx" font-size="6.7"><tspan x="1300.5" y="682.3">The first time, I</tspan><tspan x="1300.5" y="691.8">immigrated to Europe</tspan><tspan x="1300.5" y="701.3">and I had Citibank - I</tspan><tspan x="1300.5" y="710.8">thought they were</tspan><tspan x="1300.5" y="720.3">global and they were</tspan><tspan x="1300.5" y="729.8">like no, you lost all your</tspan><tspan x="1300.5" y="739.3">credit</tspan></text></g>
<g id="r5" class="n"><rect class="sr" x="1357" y="665" width="86" height="87"/><text class="tx" font-size="8.3"><tspan x="1400" y="682.2">If there's</tspan><tspan x="1400" y="693.9">something</tspan><tspan x="1400" y="705.6">atypical - it's a</tspan><tspan x="1400" y="717.3">nightmare. The</tspan><tspan x="1400" y="729">[banking] system</tspan><tspan x="1400" y="740.7">freaks out.</tspan></text></g>
<g id="r6" class="n"><rect class="sr" x="1451" y="665" width="86" height="87"/><text class="tx" font-size="8.3"><tspan x="1494" y="682.2">In general, when</tspan><tspan x="1494" y="693.9">you immigrate -</tspan><tspan x="1494" y="705.6">it's hard to</tspan><tspan x="1494" y="717.3">understand</tspan><tspan x="1494" y="729">[investing] system</tspan><tspan x="1494" y="740.7">and terminology</tspan></text></g>
<g id="r7" class="n"><rect class="sr" x="958" y="765" width="86" height="87"/><text class="tx" font-size="7.3"><tspan x="1001" y="780.2">[not interested in</tspan><tspan x="1001" y="790.5">loans] I feel like</tspan><tspan x="1001" y="800.8">when I go into</tspan><tspan x="1001" y="811.1">contracts with</tspan><tspan x="1001" y="821.4">banks, there's</tspan><tspan x="1001" y="831.7">always the small</tspan><tspan x="1001" y="842">print</tspan></text></g>
<g id="r8" class="n"><rect class="sr" x="1061" y="768" width="86" height="87"/><text class="tx" font-size="6.7"><tspan x="1104" y="785.3">[not interested in</tspan><tspan x="1104" y="794.8">loans] English is not my</tspan><tspan x="1104" y="804.3">first language so I feel</tspan><tspan x="1104" y="813.8">like I'm going to miss</tspan><tspan x="1104" y="823.3">something - when I do</tspan><tspan x="1104" y="832.8">something legal here I</tspan><tspan x="1104" y="842.3">feel like I need a lawyer</tspan></text></g>

<!-- Needs -->
<g id="n1" class="n"><rect class="sp" x="1771" y="682" width="86" height="87"/><text class="tx" font-size="9.9"><tspan x="1814" y="701">people I can</tspan><tspan x="1814" y="715">trust to advise</tspan><tspan x="1814" y="729">me and</tspan><tspan x="1814" y="743">manage my</tspan><tspan x="1814" y="757">investments</tspan></text></g>
<g id="n2" class="n"><rect class="sp" x="1876" y="683" width="86" height="87"/><text class="tx" font-size="9.4"><tspan x="1919" y="703.2">to know I'm not</tspan><tspan x="1919" y="716.5">going to be</tspan><tspan x="1919" y="729.8">taken advantage</tspan><tspan x="1919" y="743.1">of due to lack of</tspan><tspan x="1919" y="756.4">english skills</tspan></text></g>
<g id="n3" class="n"><rect class="sp" x="1987" y="682" width="86" height="87"/><text class="tx" font-size="12"><tspan x="2030" y="704.2">my credit to</tspan><tspan x="2030" y="721.2">come with</tspan><tspan x="2030" y="738.2">me when I</tspan><tspan x="2030" y="755.2">immigrate</tspan></text></g>
<g id="n4" class="n"><rect class="sp" x="2095" y="682" width="86" height="87"/><text class="tx" font-size="9.9"><tspan x="2138" y="701">help</tspan><tspan x="2138" y="715">navigating new</tspan><tspan x="2138" y="729">financial /</tspan><tspan x="2138" y="743">banking</tspan><tspan x="2138" y="757">system</tspan></text></g>
<g id="n5" class="n"><rect class="sp" x="2204" y="682" width="85" height="87"/><text class="tx" font-size="8.3"><tspan x="2246.5" y="699.2">help calibrating</tspan><tspan x="2246.5" y="710.9">what I know</tspan><tspan x="2246.5" y="722.6">(financial system</tspan><tspan x="2246.5" y="734.3">of home country)</tspan><tspan x="2246.5" y="746">with new financial</tspan><tspan x="2246.5" y="757.7">system in US</tspan></text></g>
<g id="n6" class="n"><rect class="sp" x="1771" y="790" width="86" height="87"/><text class="tx" font-size="12"><tspan x="1814" y="812.2">a spanish</tspan><tspan x="1814" y="829.2">speaker to</tspan><tspan x="1814" y="846.2">manage my</tspan><tspan x="1814" y="863.2">investments</tspan></text></g>
<g id="n7" class="n"><rect class="sp" x="1871" y="790" width="87" height="87"/><text class="tx" font-size="8.3"><tspan x="1914.5" y="807.2">someone who</tspan><tspan x="1914.5" y="818.9">understands me</tspan><tspan x="1914.5" y="830.6">as a latino to</tspan><tspan x="1914.5" y="842.3">manage my</tspan><tspan x="1914.5" y="854">investments /</tspan><tspan x="1914.5" y="865.7">advise me</tspan></text></g>

<!-- Advice -->
<g id="a1" class="n"><rect class="sy" x="900" y="1052" width="85" height="86"/><text class="tx" font-size="10.1"><tspan x="942.5" y="1077">Make money</tspan><tspan x="942.5" y="1091.3">work for you,</tspan><tspan x="942.5" y="1105.6">you don't work</tspan><tspan x="942.5" y="1119.9">for money</tspan></text></g>
<g id="a2" class="n"><rect class="sy" x="1007" y="1052" width="85" height="86"/><text class="tx" font-size="8.4"><tspan x="1049.5" y="1068.4">1. Diversify</tspan><tspan x="1049.5" y="1080.2">2. Don't rely on</tspan><tspan x="1049.5" y="1092">salary</tspan><tspan x="1049.5" y="1103.8">3. Control debt</tspan><tspan x="1049.5" y="1115.6">4. Different</tspan><tspan x="1049.5" y="1127.4">sources of income</tspan></text></g>
<g id="a3" class="n"><rect class="sy" x="1113" y="1055" width="86" height="87"/><text class="tx" font-size="8.4"><tspan x="1156" y="1071.9">I have been</tspan><tspan x="1156" y="1083.7">fortunate to have</tspan><tspan x="1156" y="1095.5">people around</tspan><tspan x="1156" y="1107.3">me - without that</tspan><tspan x="1156" y="1119.1">it's super</tspan><tspan x="1156" y="1130.9">intimidating</tspan></text></g>
<g id="a4" class="n"><rect class="sy" x="900" y="1156" width="85" height="87"/><text class="tx" font-size="7.4"><tspan x="942.5" y="1170.6">Immigrants, we</tspan><tspan x="942.5" y="1181.1">always forget where</tspan><tspan x="942.5" y="1191.6">we come from,</tspan><tspan x="942.5" y="1202.1">people get</tspan><tspan x="942.5" y="1212.6">distracted by the</tspan><tspan x="942.5" y="1223.1">system, how do you</tspan><tspan x="942.5" y="1233.6">stay resilient?</tspan></text></g>
<g id="a5" class="n"><rect class="sy" x="1007" y="1157" width="85" height="86"/><text class="tx" font-size="7.4"><tspan x="1049.5" y="1171.4">I'm going to own a</tspan><tspan x="1049.5" y="1181.8">house, but don't</tspan><tspan x="1049.5" y="1192.2">consider all the</tspan><tspan x="1049.5" y="1202.6">money to upkeep a</tspan><tspan x="1049.5" y="1213">house - people use</tspan><tspan x="1049.5" y="1223.4">this as a way to save</tspan><tspan x="1049.5" y="1233.8">money</tspan></text></g>
<g id="a6" class="n"><rect class="sy" x="1110" y="1156" width="86" height="87"/><text class="tx" font-size="8.4"><tspan x="1153" y="1178.8">Things that</tspan><tspan x="1153" y="1190.6">reduce mental</tspan><tspan x="1153" y="1202.4">barriers that you</tspan><tspan x="1153" y="1214.2">have and help you</tspan><tspan x="1153" y="1226">to access things</tspan></text></g>

<!-- Immigrant experience -->
<g id="i1" class="n"><rect class="sy" x="1321" y="1040" width="85" height="87"/><text class="tx" font-size="10.1"><tspan x="1363.5" y="1058.4">Observation as</tspan><tspan x="1363.5" y="1072.7">an immigrant</tspan><tspan x="1363.5" y="1087">is the US helps</tspan><tspan x="1363.5" y="1101.3">people to get</tspan><tspan x="1363.5" y="1115.6">into debt</tspan></text></g>
<g id="i2" class="n"><rect class="sy" x="1406" y="1040" width="85" height="87"/><text class="tx" font-size="8.4"><tspan x="1448.5" y="1056.9">That's why so</tspan><tspan x="1448.5" y="1068.7">many people are</tspan><tspan x="1448.5" y="1080.5">broke and poor,</tspan><tspan x="1448.5" y="1092.3">everything is</tspan><tspan x="1448.5" y="1104.1">wired for you to</tspan><tspan x="1448.5" y="1115.9">spend</tspan></text></g>
<g id="i3" class="n"><rect class="sy" x="1310" y="1140" width="85" height="87"/><text class="tx" font-size="12"><tspan x="1352.5" y="1162.2">As an</tspan><tspan x="1352.5" y="1179.2">immigrant,</tspan><tspan x="1352.5" y="1196.2">you feel you</tspan><tspan x="1352.5" y="1213.2">are no good</tspan></text></g>
<g id="i4" class="n"><rect class="sy" x="1403" y="1140" width="86" height="87"/><text class="tx" font-size="10"><tspan x="1446" y="1158.6">You're lost,</tspan><tspan x="1446" y="1172.8">you're trying to</tspan><tspan x="1446" y="1187">calibrate both</tspan><tspan x="1446" y="1201.2">systems in</tspan><tspan x="1446" y="1215.4">your mind</tspan></text></g>

<!-- Parking lot -->
<g id="p1" class="n"><rect class="sy" x="1830" y="1070" width="87" height="87"/><text class="tx" font-size="16"><tspan x="1873.5" y="1107.9">Mountain</tspan><tspan x="1873.5" y="1130.4">View, CA</tspan></text></g>
<g id="p2" class="n"><rect class="sy" x="1937" y="1070" width="86" height="87"/><text class="tx" font-size="15.5" x="1980" y="1118.9">Suburban</text></g>
<g id="p3" class="n"><rect class="sy" x="2042" y="1070" width="86" height="87"/><text class="tx" font-size="17.5"><tspan x="2085" y="1107.6">45 years</tspan><tspan x="2085" y="1131.6">old</tspan></text></g>
<g id="p4" class="n"><rect class="sy" x="2151" y="1070" width="86" height="87"/><text class="tx" font-size="14"><tspan x="2194" y="1108.9">2 in</tspan><tspan x="2194" y="1127.9">household</tspan></text></g>
<g id="p5" class="n"><rect class="sy" x="1847" y="1177" width="85" height="87"/><text class="tx" font-size="11"><tspan x="1889.5" y="1200.8">Family is</tspan><tspan x="1889.5" y="1216.5">more friends</tspan><tspan x="1889.5" y="1232.2">when you live</tspan><tspan x="1889.5" y="1247.9">abroad</tspan></text></g>
<g id="p6" class="n"><rect class="sy" x="1951" y="1177" width="86" height="87"/><text class="tx" font-size="10"><tspan x="1994" y="1202.6">Got his</tspan><tspan x="1994" y="1216.9">paperwork</tspan><tspan x="1994" y="1231.2">through wife,</tspan><tspan x="1994" y="1245.5">she's American</tspan></text></g>
<g id="p7" class="n"><rect class="sy" x="2053" y="1177" width="86" height="87"/><text class="tx" font-size="15.8"><tspan x="2096" y="1214.9">Born in</tspan><tspan x="2096" y="1237.2">Columbia</tspan></text></g>
<g id="p8" class="n"><rect class="sy" x="2151" y="1177" width="86" height="87"/><text class="tx" font-size="13"><tspan x="2194" y="1206.8">Principal</tspan><tspan x="2194" y="1225.1">User</tspan><tspan x="2194" y="1243.4">Researcher</tspan></text></g>

<!-- Stars -->
<g id="stars">
<use href="#star" class="star" transform="translate(1726,362)"/>
<use href="#star" class="star" transform="translate(1048,733)"/>
<use href="#star" class="star" transform="translate(950,850)"/>
<use href="#star" class="star" transform="translate(1299,1147)"/>
</g>
<g id="connectors"/>
</svg>
